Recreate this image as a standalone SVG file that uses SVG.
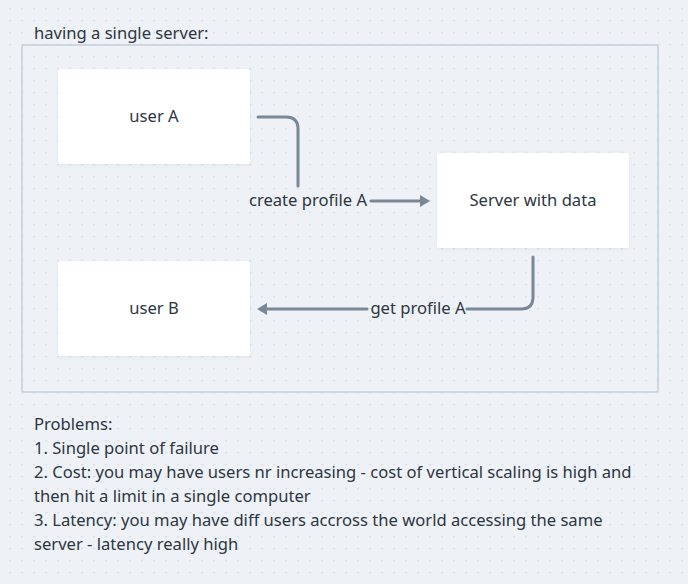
<svg xmlns="http://www.w3.org/2000/svg" width="688" height="584" viewBox="0 0 688 584">
  <defs>
    <pattern id="dots" x="9.3" y="7.8" width="12" height="12" patternUnits="userSpaceOnUse">
      <rect x="0" y="0" width="1.5" height="1.5" fill="#d0d7df"/>
    </pattern>
    <marker id="arrow" viewBox="0 0 10 12" refX="6" refY="6" markerWidth="10" markerHeight="12" markerUnits="userSpaceOnUse" orient="auto">
      <path d="M0,0 L10,6 L0,12 Z" fill="#7a8794"/>
    </marker>
    <filter id="shadow" x="-10%" y="-10%" width="120%" height="130%">
      <feDropShadow dx="0" dy="1" stdDeviation="1.5" flood-color="#8a99a8" flood-opacity="0.15"/>
    </filter>
  </defs>
  <style>
    .txt { font-family: "Noto Sans", "Liberation Sans", sans-serif; font-size: 16.6px; fill: #2d3642; }
    .node rect { fill: #ffffff; filter: url(#shadow); }
    .conn { fill: none; stroke: #7a8794; stroke-width: 3; stroke-linecap: round; stroke-linejoin: round; }
  </style>
  <rect x="0" y="0" width="688" height="584" fill="#eef2f6"/>
  <rect x="0" y="0" width="688" height="584" fill="url(#dots)"/>

  <g id="frame">
    <text class="txt" x="34" y="39">having a single server:</text>
    <rect x="22" y="45" width="636" height="347" rx="2" fill="none" stroke="#c5d0da" stroke-width="1.6"/>
  </g>

  <g id="userA" class="node">
    <rect x="58" y="69" width="192" height="95" rx="2"/>
    <text class="txt" x="154" y="122" text-anchor="middle">user A</text>
  </g>
  <g id="userB" class="node">
    <rect x="58" y="261" width="192" height="95" rx="2"/>
    <text class="txt" x="154" y="314" text-anchor="middle">user B</text>
  </g>
  <g id="server" class="node">
    <rect x="437" y="153" width="192" height="95" rx="2"/>
    <text class="txt" x="533" y="206" text-anchor="middle">Server with data</text>
  </g>

  <g id="connectors">
    <path class="conn" d="M258,117 H286 Q298,117 298,129 V186"/>
    <path class="conn" d="M371,201 H426" marker-end="url(#arrow)"/>
    <text class="txt" x="308" y="206" text-anchor="middle">create profile A</text>
    <path class="conn" d="M533,257 V297 Q533,309 521,309 H467"/>
    <path class="conn" d="M367,309 H261" marker-end="url(#arrow)"/>
    <text class="txt" x="418" y="314" text-anchor="middle">get profile A</text>
  </g>

  <g id="notes">
    <text class="txt" x="34" y="430">Problems:</text>
    <text class="txt" x="34" y="454">1. Single point of failure</text>
    <text class="txt" x="34" y="478">2. Cost: you may have users nr increasing - cost of vertical scaling is high and</text>
    <text class="txt" x="34" y="502">then hit a limit in a single computer</text>
    <text class="txt" x="34" y="526">3. Latency: you may have diff users accross the world accessing the same</text>
    <text class="txt" x="34" y="550">server - latency really high</text>
  </g>
</svg>
